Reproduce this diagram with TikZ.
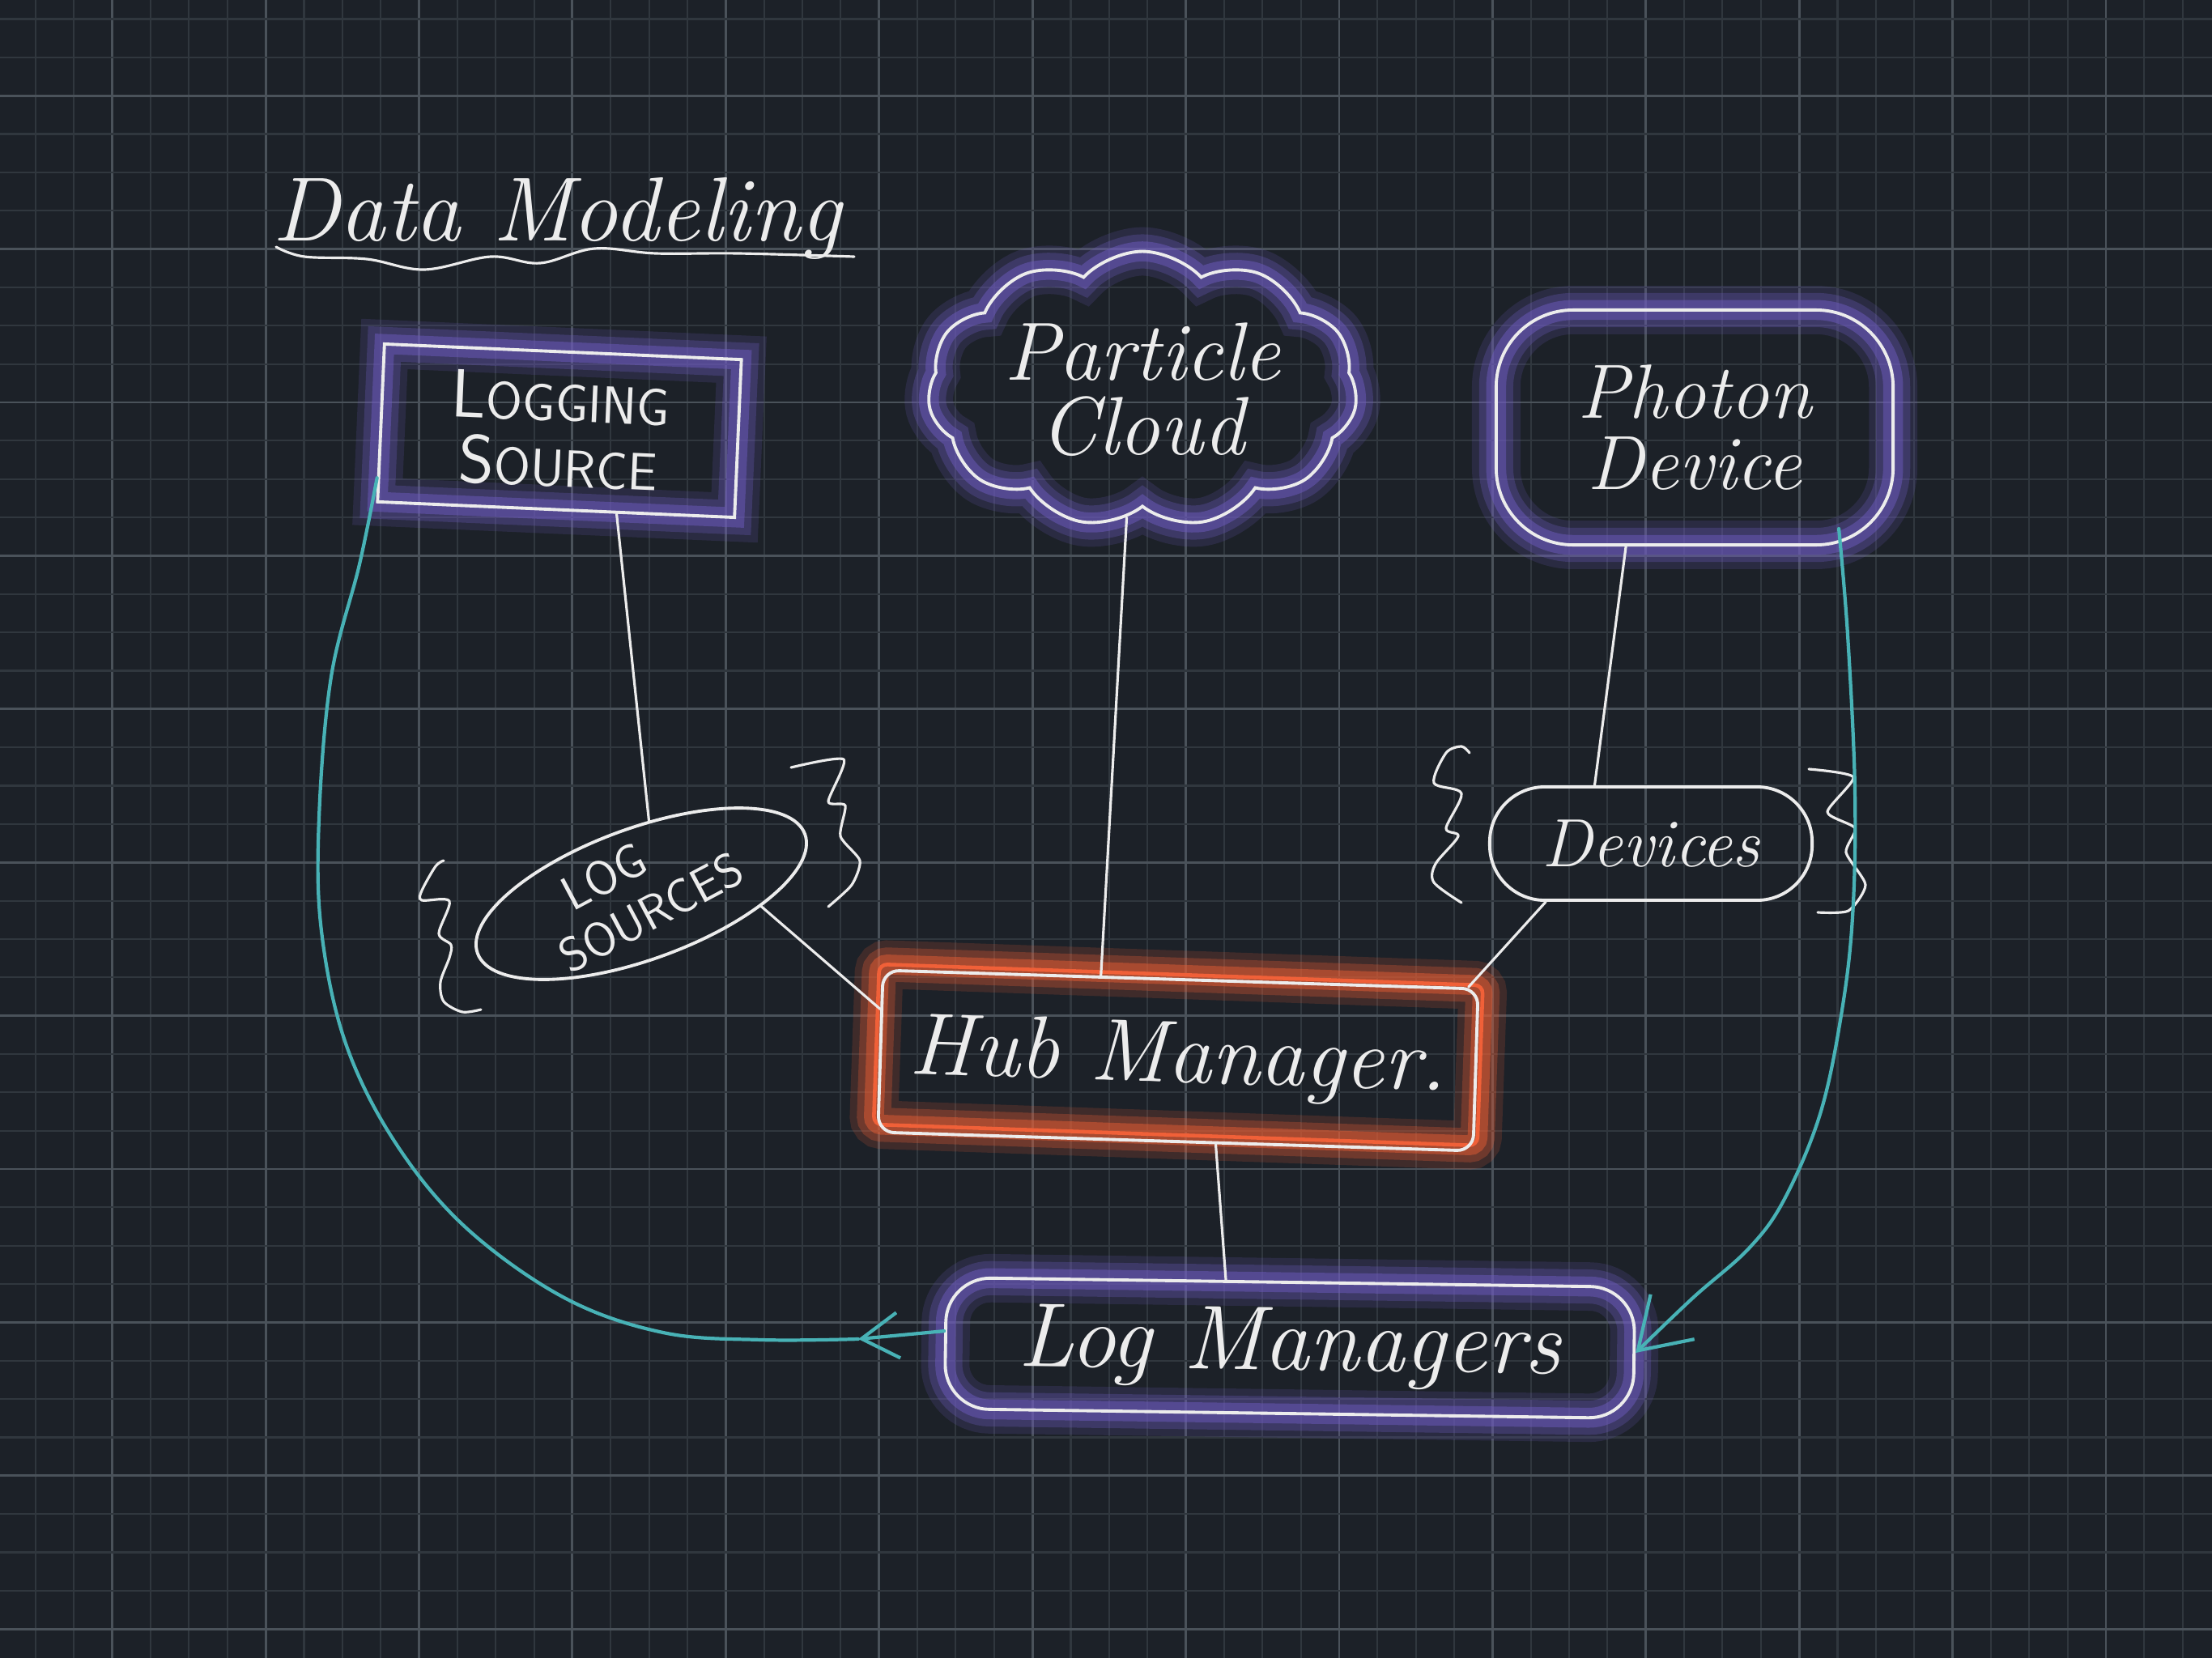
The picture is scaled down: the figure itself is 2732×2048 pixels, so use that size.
\documentclass[tikz,border=0pt]{standalone}
\usepackage{fontspec}
\usetikzlibrary{shapes.geometric,shapes.symbols,arrows.meta,calc}
\definecolor{bg}{RGB}{28,33,40}
\definecolor{gridminor}{RGB}{48,55,62}
\definecolor{gridmajor}{RGB}{74,82,90}
\definecolor{pglow}{RGB}{108,90,188}
\definecolor{oglow}{RGB}{225,92,52}
\definecolor{oline}{RGB}{240,96,56}
\definecolor{tealc}{RGB}{72,178,182}
\definecolor{ink}{RGB}{236,236,236}
\newcommand\myfs[2]{\fontsize{#1}{#2}\selectfont}
\begin{document}
\begin{tikzpicture}[x=0.01cm,y=-0.01cm,
  inkbox/.style={draw=ink, line width=1.1pt},
  conn/.style={draw=ink, line width=0.9pt, line cap=round, line join=round},
  glowp/.style={preaction={draw=pglow, line width=17pt, opacity=0.18},
                preaction={draw=pglow, line width=12pt, opacity=0.3},
                preaction={draw=pglow, line width=7pt, opacity=0.5}},
  glowo/.style={preaction={draw=oglow, line width=17pt, opacity=0.18},
                preaction={draw=oglow, line width=12pt, opacity=0.3},
                preaction={draw=oglow, line width=7pt, opacity=0.5}},
  txt/.style={text=ink, inner sep=0pt, align=center},
  tealline/.style={draw=tealc, line width=1.2pt, line cap=round, line join=round},
]
\fill[bg] (0,0) rectangle (2732,2048);
\useasboundingbox (0,0) rectangle (2732,2048);
% grid
\foreach \i in {0,...,57}{
  \pgfmathsetmacro\xx{44+47.35*\i}
  \pgfmathtruncatemacro\mm{mod(\i,4)}
  \ifnum\mm=2 \draw[gridmajor, line width=0.8pt] (\xx,0) -- (\xx,2048);
  \else \draw[gridminor, line width=0.6pt] (\xx,0) -- (\xx,2048); \fi
}
\foreach \j in {0,...,43}{
  \pgfmathsetmacro\yy{23.5+47.35*\j}
  \pgfmathtruncatemacro\mm{mod(\j,4)}
  \ifnum\mm=2 \draw[gridmajor, line width=0.8pt] (0,\yy) -- (2732,\yy);
  \else \draw[gridminor, line width=0.6pt] (0,\yy) -- (2732,\yy); \fi
}

% title
\node[txt, anchor=base west, font={\itshape\myfs{32pt}{36pt}}] (title) at (336,297) {Data Modeling};
\draw[conn] plot[smooth, tension=0.6] coordinates {(341,305) (376,317) (453,320) (524,333) (606,317) (667,325) (734,307) (810,313) (912,313) (1055,317)};

% nodes
\node[inkbox, glowp, rectangle, minimum width=4.41cm, minimum height=1.95cm, rotate=-2.5,
      txt, font={\sffamily\myfs{24pt}{23pt}}] (logging) at (691,532)
      {L{\myfs{18.5pt}{23pt}OGGING}\\S{\myfs{18.5pt}{23pt}OURCE}};

\node[inkbox, glowp, cloud, cloud puffs=11, cloud puff arc=95, aspect=1.65,
      minimum width=5.3cm, minimum height=3.2cm,
      txt, font={\itshape\myfs{29pt}{26pt}}] (cloud) at (1411,481) {Particle\\Cloud};

\node[inkbox, glowp, rectangle, rounded corners=0.95cm, minimum width=4.9cm, minimum height=2.9cm,
      txt, font={\itshape\myfs{27pt}{25pt}}] (photon) at (2093,528) {Photon\\Device};

\node[inkbox, ellipse, minimum width=4.3cm, minimum height=1.62cm, rotate=20,
      txt, inner xsep=-15pt, inner ysep=-20pt] (logsrc) at (792,1104)
      {\rotatebox{8}{\sffamily\myfs{17pt}{19pt}\begin{tabular}{@{}l@{}}\hspace*{11pt}LOG\\SOURCES\end{tabular}}};

\node[inkbox, rectangle, rounded corners=0.68cm, minimum width=3.98cm, minimum height=1.4cm,
      txt, font={\itshape\myfs{24pt}{26pt}}] (devices) at (2039,1042) {Devices};

\coordinate (hubc) at (1455,1310);
\draw[glowo, draw=oline, line width=1.3pt, rounded corners=0.1cm, rotate around={-2:(hubc)}]
  ($(hubc)+(-373,-106)$) rectangle ($(hubc)+(373,92)$);
\node[inkbox, rectangle, rounded corners=0.2cm, minimum width=7.35cm, minimum height=2.0cm, rotate=-1.8,
      txt, font={\itshape\myfs{31pt}{34pt}}] (hub) at (hubc) {Hub Manager.};

\node[inkbox, glowp, rectangle, rounded corners=0.55cm, minimum width=8.5cm, minimum height=1.62cm, rotate=-0.8,
      txt, font={\itshape\myfs{32pt}{34pt}}] (logman) at (1593,1665) {Log Managers};

% braces
\draw[conn] plot[smooth, tension=0.5] coordinates {(548,1063) (538,1070) (521,1100) (521,1112) (555,1113) (542,1153) (557,1167) (555,1183) (544,1213) (548,1237) (571,1250) (594,1247)};
\draw[conn] plot[smooth, tension=0.4] coordinates {(977,948) (1042,938) (1023,990) (1044,995) (1038,1033) (1062,1063) (1052,1093) (1023,1120)};
\draw[conn] plot[smooth, tension=0.5] coordinates {(1815,930) (1805,922) (1786,930) (1771,967) (1805,980) (1786,1023) (1801,1033) (1773,1067) (1771,1090) (1805,1115)};
\draw[conn] plot[smooth, tension=0.4] coordinates {(2234,950) (2289,960) (2257,1003) (2291,1023) (2280,1053) (2304,1093) (2283,1125) (2245,1127)};

% connectors
\draw[conn] (logging.-53) -- (logsrc.64);
\draw[conn] (logsrc.-26) -- (hub.172);
\draw[conn] (cloud.-97) -- (hub.134);
\draw[conn] (photon.-120) -- (devices.134);
\draw[conn] (devices.-151) -- (hub.16);
\draw[conn] (hub.-64) -- (logman.134);

% teal arrows
\coordinate (arrL) at (1060,1654);
\draw[tealline, -{Straight Barb[length=13pt,width=16pt]}] (logman.178) -- (arrL);
\draw[tealline] plot[smooth, tension=0.6] coordinates {(arrL) (941,1655) (819,1646) (697,1603) (575,1516) (488,1411) (427,1289) (397,1150) (394,1011) (409,836) (444,697) (logging.197)};
\draw[tealline, -{Straight Barb[length=17pt,width=22pt]}] plot[smooth, tension=0.6] coordinates {($(photon.south east)+(-69,-22)$) (2282,784) (2291,976) (2288,1133) (2274,1254) (2248,1376) (2204,1481) (2160,1542) (2091,1603) (logman.east)};
\end{tikzpicture}
\end{document}
